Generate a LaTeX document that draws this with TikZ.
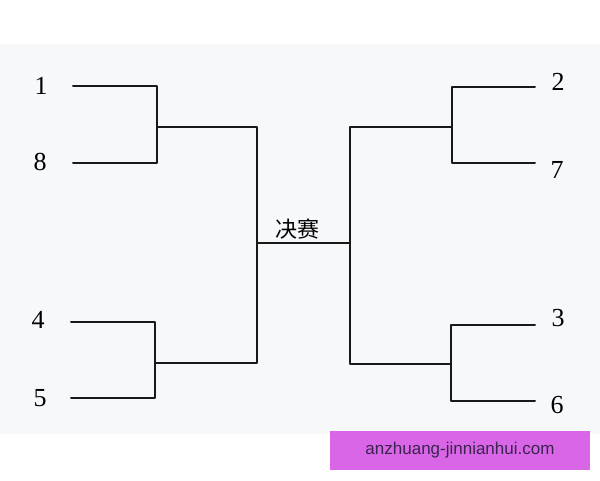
\documentclass[tikz,border=0pt]{standalone}
\usepackage{fontspec}
\setmainfont{Liberation Serif}
\newfontfamily\cjk{Noto Sans CJK SC}
\newfontfamily\wmfont{Liberation Sans}
\usepackage{xcolor}
\definecolor{paper}{HTML}{F7F8FA}
\definecolor{wmpink}{HTML}{D966E6}
\definecolor{wmtext}{HTML}{3B2350}

\begin{document}
\begin{tikzpicture}[x=1pt, y=-1pt, line cap=round, line join=round,
  bracket/.style={line width=2pt, black!90},
  seed/.style={font=\fontsize{26}{30}\selectfont, inner sep=0pt}]
  \useasboundingbox (0,0) rectangle (600,480);
  \fill[paper] (0,44) rectangle (600,434);
  % seeds, left side
  \node[seed] (n1) at (41,86) {1};
  \node[seed] (n8) at (40,162) {8};
  \node[seed] (n4) at (38,320) {4};
  \node[seed] (n5) at (40,398) {5};
  % seeds, right side
  \node[seed] (n2) at (558,82) {2};
  \node[seed] (n7) at (557,170) {7};
  \node[seed] (n3) at (558,318) {3};
  \node[seed] (n6) at (557,405) {6};
  % line ends and junctions
  \coordinate (s1) at (73,86);
  \coordinate (s8) at (73,163);
  \coordinate (s4) at (71,322);
  \coordinate (s5) at (71,398);
  \coordinate (s2) at (535,87);
  \coordinate (s7) at (535,163);
  \coordinate (s3) at (535,325);
  \coordinate (s6) at (535,401);
  \coordinate (q1) at (157,127);
  \coordinate (q2) at (155,363);
  \coordinate (q3) at (452,127);
  \coordinate (q4) at (451,364);
  \coordinate (fl) at (257,243);
  \coordinate (fr) at (350,243);
  \draw[bracket] (s1) -| (q1) |- (s8);
  \draw[bracket] (s4) -| (q2) |- (s5);
  \draw[bracket] (s2) -| (q3) |- (s7);
  \draw[bracket] (s3) -| (q4) |- (s6);
  \draw[bracket] (q1) -| (fl) |- (q2);
  \draw[bracket] (q3) -| (fr) |- (q4);
  \draw[bracket] (fl) -- (fr);
  \node[font=\cjk\fontsize{22}{26}\selectfont, inner sep=0pt] (final) at (297,229) {决赛};
  % watermark
  \node[fill=wmpink, minimum width=260pt, minimum height=39pt, inner sep=0pt,
    text=wmtext, font=\wmfont\fontsize{17}{20}\selectfont] (wm) at (460,450.5)
    {anzhuang-jinnianhui.com};
\end{tikzpicture}
\end{document}
